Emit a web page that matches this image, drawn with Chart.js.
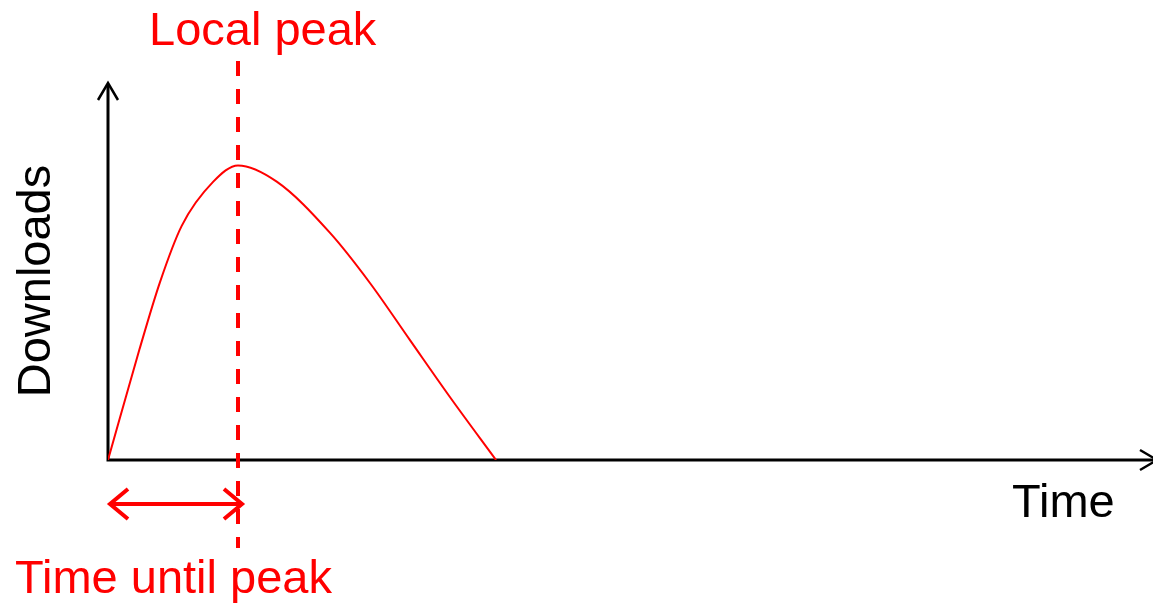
<!DOCTYPE html>
<html>
<head>
<meta charset="utf-8">
<title>Time until peak</title>
<script src="https://cdn.jsdelivr.net/npm/chart.js@4/dist/chart.umd.min.js"></script>
<style>
  html, body { margin: 0; padding: 0; background: #fff; }
  #wrap { width: 1153px; height: 604px; position: relative; }
</style>
</head>
<body>
<div id="wrap"><canvas id="peakChart"></canvas></div>
<script>
// Download curve after a release: rises to a local peak, then fades out
const times = [0, 2.41, 4.0, 5.67, 8.1, 10, 12.98, 17.08, 20.15, 23.23, 26.3, 29.85];
const downloads = [0, 37.4, 60.4, 79.5, 94.5, 100, 94.5, 77.1, 60.1, 40.7, 21.4, 0];
const xMax = 80;
const yMax = 128;

const RED = "#ff0000";
const FONT = "47px 'Liberation Sans', Arial, sans-serif";

// time at which the curve reaches its highest value
let peakIdx = 0;
for (let k = 1; k < downloads.length; k++) {
  if (downloads[k] > downloads[peakIdx]) peakIdx = k;
}
const peakTime = times[peakIdx];

function arrowHead(ctx, x, y, dir, len, half) {
  // dir: unit vector pointing toward the tip
  const bx = x - dir[0] * len, by = y - dir[1] * len;
  ctx.beginPath();
  ctx.moveTo(bx - dir[1] * half, by + dir[0] * half);
  ctx.lineTo(x, y);
  ctx.lineTo(bx + dir[1] * half, by - dir[0] * half);
  ctx.stroke();
}

const sketchPlugin = {
  id: "sketch",
  beforeDatasetsDraw(chart) {
    const ctx = chart.ctx;
    const a = chart.chartArea;
    ctx.save();

    // axes with arrow heads
    ctx.strokeStyle = "#000";
    ctx.lineWidth = 3;
    ctx.beginPath();
    ctx.moveTo(a.left, a.top + 1);
    ctx.lineTo(a.left, a.bottom);
    ctx.lineTo(a.right + 9, a.bottom);
    ctx.stroke();
    ctx.lineWidth = 2.5;
    arrowHead(ctx, a.left, a.top, [0, -1], 17, 10);
    arrowHead(ctx, a.right + 9, a.bottom, [1, 0], 17, 10);
    ctx.restore();
  },
  afterDatasetsDraw(chart) {
    const ctx = chart.ctx;
    const a = chart.chartArea;
    const xs = chart.scales.x;
    const px = Math.round(xs.getPixelForValue(peakTime));
    ctx.save();

    // dashed marker through the local peak
    ctx.strokeStyle = RED;
    ctx.lineWidth = 4;
    ctx.setLineDash([15, 13]);
    ctx.beginPath();
    ctx.moveTo(px, 61);
    ctx.lineTo(px, 548);
    ctx.stroke();
    ctx.setLineDash([]);

    // double arrow from release to peak
    const ay = 504;
    ctx.lineWidth = 4;
    ctx.beginPath();
    ctx.moveTo(a.left + 2, ay);
    ctx.lineTo(px + 3, ay);
    ctx.stroke();
    arrowHead(ctx, a.left + 2, ay, [-1, 0], 18, 15);
    arrowHead(ctx, px + 4, ay, [1, 0], 18, 15);

    // labels
    ctx.font = FONT;
    ctx.textBaseline = "alphabetic";
    ctx.textAlign = "left";
    ctx.fillStyle = RED;
    ctx.fillText("Local peak", 149, 45);
    ctx.fillText("Time until peak", 15, 593);
    ctx.fillStyle = "#000";
    ctx.fillText("Time", 1012, 517);
    ctx.translate(50, 281);
    ctx.rotate(-Math.PI / 2);
    ctx.textAlign = "center";
    ctx.fillText("Downloads", 0, 0);
    ctx.restore();
  }
};

new Chart(document.getElementById("peakChart"), {
  type: "line",
  data: {
    datasets: [{
      label: "Downloads",
      data: times.map((t, k) => ({ x: t, y: downloads[k] })),
      borderColor: RED,
      borderWidth: 2,
      pointRadius: 0,
      fill: false,
      cubicInterpolationMode: "monotone"
    }]
  },
  options: {
    responsive: true,
    maintainAspectRatio: false,
    animation: false,
    layout: { padding: { left: 108, right: 5, top: 83, bottom: 144 } },
    scales: {
      x: { type: "linear", display: false, min: 0, max: xMax },
      y: { display: false, min: 0, max: yMax }
    },
    plugins: {
      legend: { display: false },
      tooltip: { enabled: false }
    }
  },
  plugins: [sketchPlugin]
});
</script>
</body>
</html>
